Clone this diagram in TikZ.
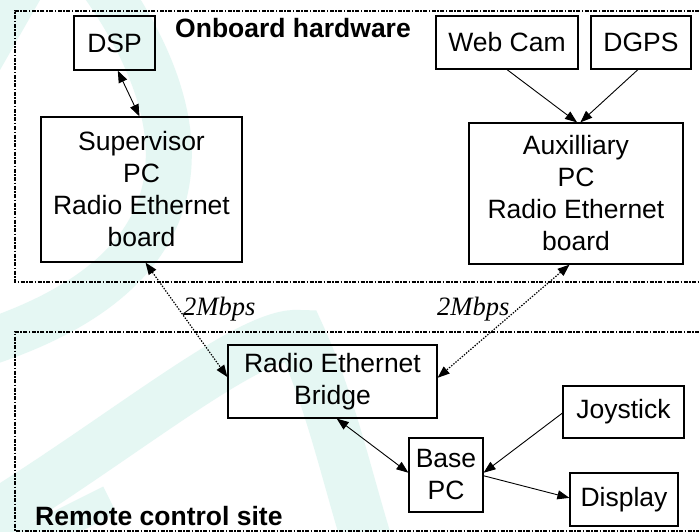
\documentclass[tikz,border=0pt]{standalone}
\usepackage{fontspec}
\setmainfont{Liberation Sans}
\newfontfamily\serifit{Liberation Serif}
\usetikzlibrary{arrows.meta,calc}
\definecolor{wm}{RGB}{229,247,243}
\tikzset{
  box/.style={draw=black, line width=1.2pt, inner sep=0pt, align=center,
    font=\fontsize{26.5}{32}\selectfont},
  conn/.style={line width=0.9pt, -{Triangle[length=12pt,width=9pt]}},
  bconn/.style={line width=0.9pt, {Triangle[length=12pt,width=9pt]}-{Triangle[length=12pt,width=9pt]}},
  dconn/.style={line width=1.2pt, dash pattern=on 1.4pt off 1.4pt,
    {Triangle[length=12pt,width=9pt]}-{Triangle[length=12pt,width=9pt]}},
  frame/.style={line width=1.4pt, dash pattern=on 4pt off 1.5pt on 1.5pt off 1.5pt},
  lbl/.style={inner sep=0pt, font=\fontsize{26.5}{32}\selectfont\bfseries},
  rate/.style={inner sep=0pt, font=\fontsize{26.5}{32}\selectfont\serifit\itshape},
  wmark/.style={draw=wm, line cap=butt}
}
\begin{document}
\begin{tikzpicture}[x=1pt,y=-1pt]
\useasboundingbox (0,0) rectangle (699,532);
\fill[white] (0,0) rectangle (699,532);
% watermark
\begin{scope}
\clip (0,0) rectangle (699,532);
\fill[wm] (0,0) -- (40,0) -- (0,70) -- cycle;
\draw[wmark, line width=46pt] (100,-20) .. controls (200,120) and (215,270) .. (-20,345);
\draw[wmark, line width=50pt] (-20,525) .. controls (120,440) and (250,330) .. (300,335)
   .. controls (330,400) and (345,470) .. (368,545);
\draw[wmark, line width=30pt] (-10,560) -- (110,500);
\end{scope}
% frames
\draw[frame] (699,11) -- (15,11) -- (15,282) -- (699,282);
\draw[frame] (699,332) -- (15,332) -- (15,531) -- (699,531);
% labels
\node[lbl, anchor=base west] (onb) at (175,38) {Onboard hardware};
\node[lbl, anchor=base west] (rcs) at (35,525) {Remote control site};
% boxes
\node[box, minimum width=81pt, minimum height=54pt] (dsp) at (114.5,43) {DSP};
\node[box, minimum width=201pt, minimum height=145pt] (sup) at (141.5,189.5) {Supervisor\\PC\\Radio Ethernet\\board};
\node[box, minimum width=142pt, minimum height=53pt] (cam) at (507,42.5) {Web Cam};
\node[box, minimum width=100pt, minimum height=53pt] (gps) at (641,42.5) {DGPS};
\node[box, minimum width=214pt, minimum height=141pt] (aux) at (576,193.5) {Auxilliary\\PC\\Radio Ethernet\\board};
\node[box, minimum width=209pt, minimum height=73pt] (bri) at (332.5,381.5) {Radio Ethernet\\Bridge};
\node[box, minimum width=74pt, minimum height=74pt] (base) at (446,475) {Base\\PC};
\node[box, minimum width=121pt, minimum height=52pt] (joy) at (623.5,412) {Joystick};
\node[box, minimum width=108pt, minimum height=53pt] (disp) at (624,499.5) {Display};
% rate labels
\node[rate, anchor=base west] (r1) at (183,315) {2Mbps};
\node[rate, anchor=base west] (r2) at (437,315) {2Mbps};
% connectors
\draw[bconn] ($(dsp.south west)!0.54!(dsp.south east)$) -- ($(sup.north west)!0.49!(sup.north east)$);
\draw[conn] ($(cam.south west)!0.5!(cam.south east)$) -- ($(aux.north west)!0.505!(aux.north east)$);
\draw[conn] ($(gps.south west)!0.47!(gps.south east)$) -- ($(aux.north west)!0.52!(aux.north east)$);
\draw[dconn] ($(sup.south west)!0.52!(sup.south east)$) -- ($(bri.north west)!0.44!(bri.south west)$);
\draw[dconn] ($(aux.south west)!0.47!(aux.south east)$) -- ($(bri.north east)!0.45!(bri.south east)$);
\draw[bconn] ($(bri.south west)!0.52!(bri.south east)$) -- ($(base.north west)!0.47!(base.south west)$);
\draw[conn] ($(joy.north west)!0.52!(joy.south west)$) -- ($(base.north east)!0.47!(base.south east)$);
\draw[conn] ($(base.north east)!0.51!(base.south east)$) -- ($(disp.north west)!0.47!(disp.south west)$);
\end{tikzpicture}
\end{document}
